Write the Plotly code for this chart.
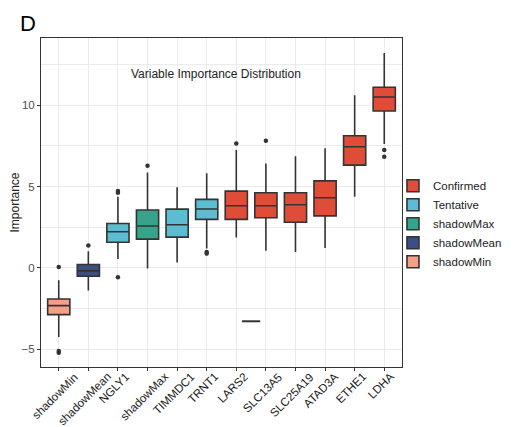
import plotly.graph_objects as go

# ---- data ----
features = ["shadowMin", "shadowMean", "NGLY1", "shadowMax", "TIMMDC1", "TRNT1",
            "LARS2", "SLC13A5", "SLC25A19", "ATAD3A", "ETHE1", "LDHA"]
decision = ["shadowMin", "shadowMean", "Tentative", "shadowMax", "Tentative", "Tentative",
            "Confirmed", "Confirmed", "Confirmed", "Confirmed", "Confirmed", "Confirmed"]
whisker_low = [-4.25, -1.39, 0.55, -0.04, 0.33, 1.19, 1.87, 1.05, 0.98, 1.23, 4.37, 7.61]
q1_vals     = [-2.87, -0.51, 1.58, 1.77, 1.89, 2.98, 2.98, 3.08, 2.81, 3.20, 6.32, 9.64]
median_vals = [-2.32, -0.18, 2.22, 2.58, 2.65, 3.62, 3.82, 3.82, 3.88, 4.31, 7.45, 10.50]
q3_vals     = [-1.91, 0.21, 2.73, 3.56, 3.61, 4.21, 4.72, 4.62, 4.62, 5.35, 8.12, 11.10]
whisker_high = [-0.76, 1.03, 4.37, 5.87, 4.95, 5.81, 7.24, 6.42, 6.87, 7.35, 10.61, 13.21]

outlier_feature = ["shadowMin", "shadowMin", "shadowMin", "shadowMean", "NGLY1", "NGLY1", "NGLY1",
                   "shadowMax", "TRNT1", "TRNT1", "LARS2", "SLC13A5", "LDHA", "LDHA"]
outlier_value = [0.06, -5.10, -5.22, 1.38, 4.72, 4.62, -0.57,
                 6.28, 0.98, 0.88, 7.65, 7.82, 7.24, 6.83]

stray_x = [6.5]
stray_y = [-3.28]

legend_order = ["Confirmed", "Tentative", "shadowMax", "shadowMean", "shadowMin"]
colors = {"Confirmed": "#DF4D39", "Tentative": "#5CBCD2", "shadowMax": "#36A48A",
          "shadowMean": "#3D4E84", "shadowMin": "#F49F86"}

y_ticks = [-5, 0, 5, 10]
y_minor = [-2.5, 2.5, 7.5, 12.5]

FONT = "Arial, Liberation Sans, Helvetica, sans-serif"
LINE = "#333333"

fig = go.Figure()
pos = {f: i for i, f in enumerate(features)}
for grp in legend_order:
    idx = [i for i, d in enumerate(decision) if d == grp]
    fig.add_trace(go.Box(
        name=grp,
        x=[i for i in idx],
        q1=[q1_vals[i] for i in idx],
        median=[median_vals[i] for i in idx],
        q3=[q3_vals[i] for i in idx],
        lowerfence=[whisker_low[i] for i in idx],
        upperfence=[whisker_high[i] for i in idx],
        width=0.75,
        whiskerwidth=0,
        boxpoints=False,
        fillcolor=colors[grp],
        line=dict(color=LINE, width=1.6),
        hoverinfo="skip",
    ))

fig.add_trace(go.Scatter(
    x=[pos[f] for f in outlier_feature], y=outlier_value, mode="markers",
    marker=dict(color=LINE, size=4.5), showlegend=False, hoverinfo="skip"))

fig.add_trace(go.Scatter(
    x=stray_x, y=stray_y, mode="markers",
    marker=dict(symbol="line-ew", size=13, line=dict(color=LINE, width=2)),
    showlegend=False, hoverinfo="skip"))

# rotated category labels, centred under each tick (ggplot-style)
label_annotations = [
    dict(text=f, x=i, xref="x", y=0, yref="paper", xanchor="center", yanchor="top",
         textangle=-45, xshift=-4, yshift=0, showarrow=False,
         font=dict(size=11.6, color="#1A1A1A"))
    for i, f in enumerate(features)
]

fig.update_layout(
    width=505, height=419,
    margin=dict(l=33, r=111, t=30, b=60, autoexpand=False),
    paper_bgcolor="white", plot_bgcolor="white",
    font=dict(family=FONT, size=11, color="#222222"),
    boxmode="overlay",
    showlegend=True,
    legend=dict(x=0.975, y=0.595, xanchor="left", yanchor="top",
                font=dict(size=11.5, color="#222222"), tracegroupgap=0,
                bgcolor="rgba(0,0,0,0)"),
    annotations=[
        dict(text="Variable Importance Distribution", xref="paper", yref="paper",
             x=0.485, y=0.891, xanchor="center", yanchor="middle", showarrow=False,
             font=dict(size=12, color="#222222")),
        dict(text="D", xref="paper", yref="paper", x=-0.064, y=1.089,
             xanchor="left", yanchor="top", showarrow=False,
             font=dict(size=22, color="#000000")),
    ] + label_annotations,
)

fig.update_xaxes(
    automargin=False,
    range=[-0.6, 11.6], tickmode="array", tickvals=list(range(len(features))),
    showticklabels=False,
    showgrid=True, gridcolor="#EBEBEB", gridwidth=1.1, zeroline=False,
    ticks="outside", ticklen=3, tickcolor=LINE,
    showline=True, linecolor=LINE, linewidth=1, mirror=True,
)
fig.update_yaxes(
    automargin=False,
    range=[-6.09, 14.13], tickmode="array", tickvals=y_ticks,
    tickfont=dict(size=11.5, color="#4D4D4D"),
    title=dict(text="Importance", font=dict(size=12, color="#222222"), standoff=6),
    showgrid=True, gridcolor="#EBEBEB", gridwidth=1.1, zeroline=False,
    minor=dict(tickvals=y_minor, showgrid=True, gridcolor="#EBEBEB", gridwidth=1.1, ticks=""),
    ticks="outside", ticklen=3, tickcolor=LINE,
    showline=True, linecolor=LINE, linewidth=1, mirror=True,
)

fig.write_html("out.html")
